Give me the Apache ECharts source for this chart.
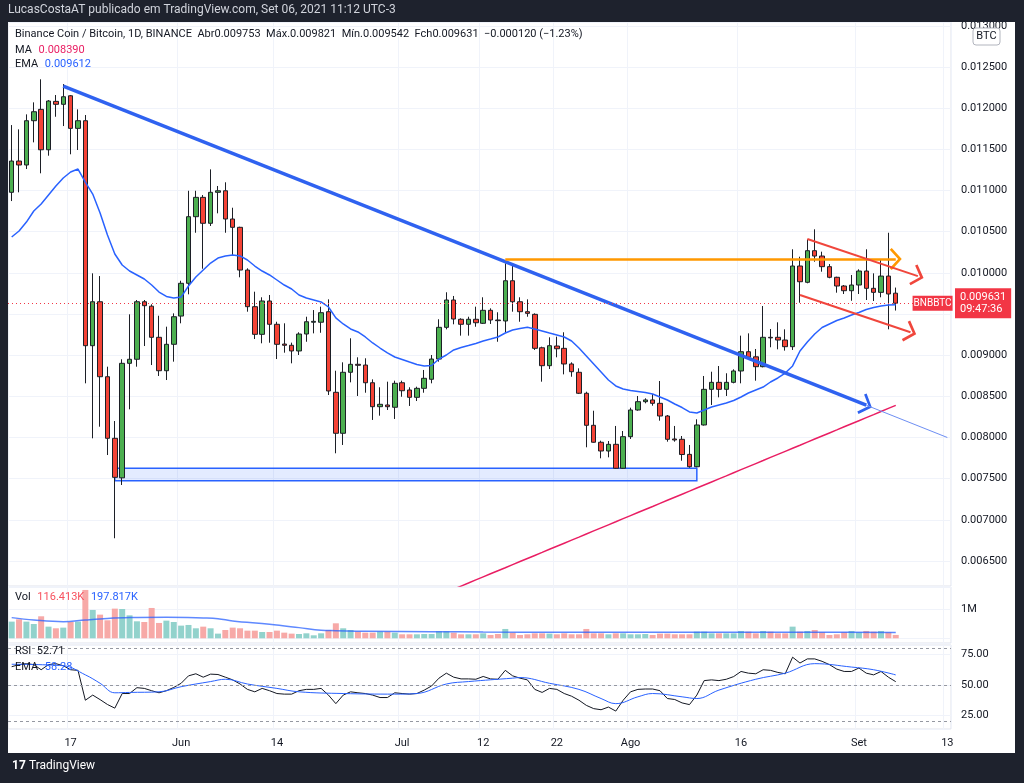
<!DOCTYPE html>
<html><head><meta charset="utf-8">
<script src="https://cdn.jsdelivr.net/npm/echarts@6/dist/echarts.min.js"></script>
<style>html,body{margin:0;padding:0;background:#1e222d}#c{width:1024px;height:783px}</style>
</head><body><div id="c"></div>
<script>
const categories = [
'05-09','05-10','05-11','05-12','05-13','05-14','05-15','05-16','05-17','05-18','05-19','05-20','05-21','05-22','05-23','05-24','05-25','05-26','05-27','05-28','05-29','05-30','05-31',
'06-01','06-02','06-03','06-04','06-05','06-06','06-07','06-08','06-09','06-10','06-11','06-12','06-13','06-14','06-15','06-16','06-17','06-18','06-19','06-20','06-21','06-22','06-23','06-24','06-25','06-26','06-27','06-28','06-29','06-30',
'07-01','07-02','07-03','07-04','07-05','07-06','07-07','07-08','07-09','07-10','07-11','07-12','07-13','07-14','07-15','07-16','07-17','07-18','07-19','07-20','07-21','07-22','07-23','07-24','07-25','07-26','07-27','07-28','07-29','07-30','07-31',
'08-01','08-02','08-03','08-04','08-05','08-06','08-07','08-08','08-09','08-10','08-11','08-12','08-13','08-14','08-15','08-16','08-17','08-18','08-19','08-20','08-21','08-22','08-23','08-24','08-25','08-26','08-27','08-28','08-29','08-30','08-31',
'09-01','09-02','09-03','09-04','09-05','09-06','09-07','09-08','09-09','09-10','09-11','09-12','09-13'];

const tickDates = ['05-17','06-01','06-14','07-01','07-12','07-22','08-01','08-16','09-01','09-13'];
const tickTexts = ['17','Jun','14','Jul','12','22','Ago','16','Set','13'];

const opens = [0.010978,0.011358,0.011310,0.011848,0.011986,0.011495,0.012083,0.012047,0.012151,0.011755,
0.011848,0.009115,0.009649,0.008738,0.007990,0.007510,0.008901,0.008950,0.009649,0.009595,
0.009217,0.008811,0.009132,0.009475,0.009873,0.010682,0.010917,0.010602,0.010978,0.010997,
0.010654,0.010553,0.010034,0.009589,0.009253,0.009658,0.009375,0.009135,0.009120,0.009051,
0.009257,0.009400,0.009400,0.009528,0.008549,0.008051,0.008792,0.008889,0.008880,0.008665,
0.008374,0.008395,0.008367,0.008665,0.008577,0.008488,0.008597,0.008707,0.008953,0.009338,
0.009670,0.009436,0.009375,0.009436,0.009387,0.009545,0.009427,0.009415,0.009904,0.009649,
0.009528,0.009496,0.009090,0.008872,0.009111,0.009083,0.008893,0.008792,0.008537,0.008148,
0.007942,0.007836,0.007917,0.007626,0.008010,0.008334,0.008435,0.008456,0.008415,0.008261,
0.007982,0.007978,0.007795,0.007645,0.008152,0.008585,0.008670,0.008585,0.008670,0.008808,
0.009042,0.008980,0.008860,0.009217,0.009217,0.009184,0.009103,0.010083,0.009885,0.010269,
0.010204,0.010075,0.009946,0.009840,0.009783,0.009852,0.010022,0.009812,0.009763,0.009961,
0.009753];
const closes = [0.011358,0.011310,0.011848,0.011957,0.011495,0.012087,0.012047,0.012139,0.011755,0.011848,
0.009115,0.009649,0.008738,0.007990,0.007516,0.008901,0.008950,0.009649,0.009601,0.009217,
0.008811,0.009132,0.009467,0.009873,0.010682,0.010917,0.010602,0.010978,0.010997,0.010654,
0.010553,0.010034,0.009589,0.009253,0.009658,0.009375,0.009132,0.009120,0.009051,0.009257,
0.009406,0.009411,0.009516,0.008565,0.008051,0.008792,0.008889,0.008877,0.008665,0.008374,
0.008403,0.008374,0.008658,0.008568,0.008488,0.008597,0.008719,0.008953,0.009338,0.009670,
0.009439,0.009375,0.009436,0.009394,0.009545,0.009427,0.009419,0.009904,0.009649,0.009528,
0.009508,0.009083,0.008872,0.009115,0.009078,0.008893,0.008799,0.008537,0.008148,0.007942,
0.007836,0.007917,0.007626,0.008010,0.008334,0.008435,0.008456,0.008415,0.008261,0.007978,
0.007970,0.007793,0.007645,0.008152,0.008585,0.008670,0.008585,0.008670,0.008808,0.009042,
0.008974,0.008860,0.009217,0.009210,0.009184,0.009103,0.010083,0.009892,0.010269,0.010204,
0.010075,0.009946,0.009840,0.009783,0.009852,0.010022,0.009812,0.009763,0.009961,0.009743,
0.009631];
const lows = [0.010872,0.010978,0.011261,0.011585,0.011209,0.011423,0.011896,0.011783,0.011440,0.011492,
0.008658,0.007990,0.008131,0.007787,0.006776,0.007423,0.008342,0.008860,0.009111,0.008880,
0.008747,0.008698,0.008921,0.009387,0.009739,0.010487,0.010050,0.010569,0.010723,0.010487,
0.010208,0.009946,0.009528,0.009196,0.009144,0.009151,0.008953,0.009030,0.008901,0.009002,
0.009163,0.009265,0.009272,0.008516,0.007808,0.007909,0.008670,0.008504,0.008544,0.008213,
0.008265,0.008334,0.008225,0.008495,0.008383,0.008443,0.008544,0.008658,0.008921,0.009314,
0.009375,0.009237,0.009237,0.009345,0.009379,0.009379,0.009163,0.009273,0.009528,0.009406,
0.009467,0.009063,0.008678,0.008832,0.008974,0.008767,0.008738,0.008528,0.007881,0.007937,
0.007747,0.007759,0.007620,0.007620,0.007982,0.008325,0.008415,0.008386,0.008204,0.007949,
0.007949,0.007718,0.007633,0.007638,0.008145,0.008395,0.008488,0.008504,0.008658,0.008658,
0.008962,0.008690,0.008852,0.009096,0.009071,0.009055,0.009063,0.009637,0.009873,0.010135,
0.010014,0.009934,0.009759,0.009743,0.009661,0.009743,0.009670,0.009658,0.009703,0.009314,
0.009542];
const highs = [0.011795,0.011743,0.011925,0.012071,0.012351,0.012099,0.012160,0.012293,0.012160,0.011986,
0.011917,0.009994,0.009961,0.008860,0.008200,0.008950,0.009496,0.009670,0.009670,0.009618,
0.009479,0.009346,0.009508,0.009904,0.010997,0.010997,0.010945,0.011257,0.011055,0.011100,
0.010791,0.010560,0.010055,0.009771,0.009703,0.009731,0.009406,0.009387,0.009152,0.009278,
0.009467,0.009548,0.009589,0.009678,0.008811,0.008913,0.009205,0.008974,0.008962,0.008706,
0.008610,0.008678,0.008690,0.008690,0.008610,0.008617,0.008820,0.009002,0.009436,0.009764,
0.009719,0.009448,0.009467,0.009589,0.009703,0.009569,0.009521,0.010116,0.010116,0.009703,
0.009678,0.009508,0.009103,0.009217,0.009225,0.009278,0.008913,0.008840,0.008556,0.008325,
0.007961,0.007957,0.008140,0.008079,0.008362,0.008504,0.008476,0.008528,0.008686,0.008273,
0.008140,0.008018,0.007909,0.008221,0.008747,0.008799,0.008868,0.008780,0.008828,0.009237,
0.009265,0.009075,0.009597,0.009318,0.009399,0.009314,0.010286,0.010196,0.010407,0.010529,
0.010257,0.010107,0.009953,0.009852,0.009974,0.010043,0.010286,0.009994,0.010156,0.010487,
0.009821];

const volumes = [575000,655000,575000,494000,759000,402000,345000,368000,563000,575000,
1667000,977000,816000,621000,1023000,1011000,793000,586000,563000,1046000,
529000,609000,563000,437000,460000,345000,402000,345000,161000,287000,
368000,345000,264000,264000,218000,218000,264000,195000,161000,149000,
172000,103000,172000,287000,517000,345000,287000,230000,195000,195000,
230000,230000,195000,138000,138000,138000,149000,149000,241000,241000,
195000,138000,138000,138000,172000,115000,149000,322000,195000,115000,
138000,172000,172000,161000,138000,172000,138000,138000,322000,172000,
172000,138000,172000,172000,138000,138000,149000,115000,161000,161000,
138000,138000,138000,230000,230000,172000,172000,172000,172000,253000,
230000,172000,253000,230000,172000,172000,402000,230000,253000,287000,
207000,115000,138000,207000,253000,207000,253000,230000,253000,207000,
116413];

const emaValues = [0.010435,0.010508,0.010617,0.010751,0.010836,0.010945,0.011055,0.011152,0.011225,0.011261,
0.011103,0.010957,0.010727,0.010459,0.010229,0.010095,0.010022,0.009974,0.009925,0.009852,
0.009767,0.009713,0.009694,0.009706,0.009840,0.009949,0.010034,0.010119,0.010180,0.010205,
0.010217,0.010205,0.010156,0.010083,0.010022,0.009974,0.009913,0.009852,0.009804,0.009731,
0.009694,0.009670,0.009646,0.009585,0.009452,0.009379,0.009318,0.009282,0.009221,0.009148,
0.009087,0.009027,0.008978,0.008948,0.008917,0.008887,0.008869,0.008875,0.008953,0.009002,
0.009063,0.009093,0.009117,0.009142,0.009172,0.009196,0.009221,0.009269,0.009306,0.009324,
0.009338,0.009318,0.009294,0.009269,0.009245,0.009221,0.009172,0.009087,0.008990,0.008893,
0.008796,0.008698,0.008626,0.008589,0.008571,0.008559,0.008547,0.008528,0.008492,0.008455,
0.008407,0.008364,0.008310,0.008298,0.008334,0.008370,0.008395,0.008419,0.008449,0.008492,
0.008540,0.008577,0.008613,0.008674,0.008723,0.008783,0.008869,0.009051,0.009160,0.009257,
0.009336,0.009379,0.009421,0.009452,0.009488,0.009518,0.009555,0.009579,0.009597,0.009609,
0.009612];

const maStart = 60;
const maValues = [0.006158,0.006195,0.006232,0.006270,0.006307,0.006344,0.006381,0.006418,0.006456,0.006493,
0.006530,0.006567,0.006604,0.006642,0.006679,0.006716,0.006753,0.006790,0.006828,0.006865,
0.006902,0.006939,0.006976,0.007014,0.007051,0.007088,0.007125,0.007162,0.007200,0.007237,
0.007274,0.007311,0.007348,0.007386,0.007423,0.007460,0.007497,0.007534,0.007572,0.007609,
0.007646,0.007683,0.007720,0.007758,0.007795,0.007832,0.007869,0.007906,0.007944,0.007981,
0.008018,0.008055,0.008092,0.008130,0.008167,0.008204,0.008241,0.008278,0.008316,0.008353,
0.008390];

const volMaIdx = [0,3,7,10,12,16,21,26,28,30,35,39,42,44,48,57,64,75,90,100,110,120];
const volMaVals = [713000,632000,575000,632000,667000,713000,724000,701000,678000,598000,483000,368000,276000,264000,241000,230000,218000,207000,205000,210000,212000,197817];

const rsiValues = [65,66.7,67.5,66.7,62.5,66.7,67.5,65.8,62.5,62,
37.5,41.7,38,34,31,43,43,47.8,47.2,45.3,
43.6,45.3,48,51.4,57.5,59.2,56.4,58.9,58.6,56.4,
54.2,50.8,46.4,44.4,47.2,45.3,43,42.5,42.5,45.3,
46.4,46.4,47.2,41.7,34.7,41.7,44.4,43.6,43,41.7,
39.7,39.7,43.6,43,42.5,43,45.8,49.2,55.6,59.7,
56.4,55,55,54.7,57,55,54.7,62,57.5,55.6,
54.2,46.4,43.9,47.2,46.4,43,40.8,37.5,33.3,30.6,
29.7,31.9,28.6,37.5,44.4,46.4,46.7,46.7,45.3,38.9,
38.1,35.3,33.9,41.7,53.6,54.2,53.6,54.7,56.9,61.1,
59.7,59.2,62.5,62,60.3,59.2,72.8,68,71.4,71.4,
69.4,66.7,63,61.1,61.1,63.9,59.7,58.3,61.1,56.4,
52.71];
const rsiEmaIdx = [0,7,10,12,14,16,20,23,27,29,32,36,39,45,52,55,59,62,68,69,73,77,80,82,85,87,91,93,96,101,105,109,114,117,120];
const rsiEmaVals = [67,65.8,58.3,51.4,43.6,43.9,44.4,48.6,52.8,54.7,50.8,47.2,44.4,43,42.5,43,50.8,52.8,55.6,56.1,51.4,46.4,38.9,34.7,40.3,43,40.3,38.9,45.8,54.7,59.7,67.5,64.7,62.5,58.28];
const rsiBands = [80, 50, 20];

// drawings (category index, price)
const trendMain = [[7, 0.012269], [116, 0.008392]];
const trendExt = [[116, 0.008392], [127, 0.008000]];
const resistance = [[67, 0.010168], [120, 0.010168]];
const channelTop = [[108, 0.010411], [123, 0.009960]];
const channelBottom = [[107, 0.009731], [122, 0.009278]];
const supportBox = [[14, 0.007626], [93, 0.007475]];
const lastPrice = 0.009631;

const chevron = 'path://M0,10 L12,0 L24,10 L22,12 L12,3.6 L2,12 Z';
const FONT = 'Roboto';
const upColor = '#4caf50', downColor = '#f44336';

function seg(pts, color, width, arrow) {
  return [
    {coord: pts[0], symbol: 'none', lineStyle: {color: color, width: width, type: 'solid', opacity: 1}},
    arrow ? {coord: pts[1], symbol: chevron, symbolSize: [22, 12], itemStyle: {color: color}} : {coord: pts[1], symbol: 'none'}
  ];
}

const xSplit = (i, v) => tickDates.indexOf(v) >= 0;
function makeX(gi, showLabel) {
  return {
    type: 'category', gridIndex: gi, data: categories, boundaryGap: true,
    axisLine: {show: false}, axisTick: {show: false},
    axisLabel: {show: showLabel, interval: xSplit, formatter: v => tickTexts[tickDates.indexOf(v)],
      color: '#131722', fontSize: 11, fontFamily: FONT, margin: 9},
    splitLine: {show: true, interval: xSplit, lineStyle: {color: '#f0f3fa', width: 1}}
  };
}
const gridBase = {left: 8, right: 73, show: true, borderColor: '#e0e3eb', borderWidth: 1, containLabel: false};

const chart = echarts.init(document.getElementById('c'));
chart.setOption({
  animation: false,
  backgroundColor: '#ffffff',
  grid: [
    Object.assign({top: 22, height: 564}, gridBase),
    Object.assign({top: 587, height: 56}, gridBase),
    Object.assign({top: 645, height: 84}, gridBase)
  ],
  xAxis: [makeX(0, false), makeX(1, false), makeX(2, true)],
  yAxis: [
    {type: 'value', gridIndex: 0, position: 'right', min: 0.006196, max: 0.013047, splitNumber: 14,
     minInterval: 0.0005, maxInterval: 0.0005, scale: true,
     axisLine: {show: false}, axisTick: {show: false},
     axisLabel: {formatter: v => v.toFixed(6), color: '#131722', fontSize: 11, fontFamily: FONT, margin: 10, showMinLabel: false, showMaxLabel: false},
     splitLine: {lineStyle: {color: '#f0f3fa'}}},
    {type: 'value', gridIndex: 1, position: 'right', min: -162000, max: 1769000,
     minInterval: 1000000, maxInterval: 1000000, scale: true,
     axisLine: {show: false}, axisTick: {show: false},
     axisLabel: {formatter: v => Math.abs(v - 1000000) < 1 ? '1M' : '', color: '#131722', fontSize: 11, fontFamily: FONT, margin: 10, showMinLabel: false, showMaxLabel: false},
     splitLine: {lineStyle: {color: '#f0f3fa'}}},
    {type: 'value', gridIndex: 2, position: 'right', min: 13.9, max: 82.8,
     minInterval: 25, maxInterval: 25, scale: true,
     axisLine: {show: false}, axisTick: {show: false},
     axisLabel: {formatter: v => v.toFixed(2), color: '#131722', fontSize: 11, fontFamily: FONT, margin: 10, showMinLabel: false, showMaxLabel: false},
     splitLine: {lineStyle: {color: '#f0f3fa'}}}
  ],
  series: [
    {type: 'candlestick', xAxisIndex: 0, yAxisIndex: 0, barWidth: 5,
     data: opens.map((o, i) => [o, closes[i], lows[i], highs[i]]),
     itemStyle: {color: upColor, color0: downColor, borderColor: '#1c1f26', borderColor0: '#1c1f26', borderWidth: 1},
     markArea: {silent: true, data: [[{coord: supportBox[0]}, {coord: supportBox[1]}]],
       itemStyle: {color: 'rgba(41,98,255,0.13)', borderColor: '#2962ff', borderWidth: 1.5}},
     markLine: {silent: true, precision: 6, symbol: ['none', 'none'], label: {show: false}, animation: false,
       data: [
         seg(trendMain, '#2f62f0', 3.5, true),
         seg(trendExt, '#6d8ef3', 1, false),
         seg(resistance, '#ff9800', 2.5, true),
         seg(channelTop, '#f0463c', 2, true),
         seg(channelBottom, '#f0463c', 2, true),
         {yAxis: lastPrice, symbol: 'none', lineStyle: {color: '#f23645', type: [1, 3], width: 1},
          label: {show: true, position: 'end', distance: 4, formatter: lastPrice.toFixed(6) + '\n09:47:36',
            color: '#ffffff', backgroundColor: '#f23645', padding: [3, 5, 3, 5], fontSize: 11, lineHeight: 12, fontFamily: FONT}}
       ]},
     markPoint: {silent: true, animation: false, data: [{coord: [125, lastPrice], symbol: 'rect', symbolSize: [40, 15],
       itemStyle: {color: '#f23645'}, label: {show: true, formatter: 'BNBBTC', color: '#ffffff', fontSize: 10, fontFamily: FONT}}]}
    },
    {type: 'line', xAxisIndex: 0, yAxisIndex: 0, data: emaValues, showSymbol: false, symbol: 'none',
     lineStyle: {color: '#2962ff', width: 1.5}, z: 4},
    {type: 'line', xAxisIndex: 0, yAxisIndex: 0, data: maValues.map((v, k) => [maStart + k, v]), showSymbol: false, symbol: 'none',
     lineStyle: {color: '#e91e63', width: 1.5}, clip: true, z: 4},
    {type: 'bar', xAxisIndex: 1, yAxisIndex: 1, barWidth: 6,
     data: volumes.map((v, i) => ({value: v, itemStyle: {color: closes[i] >= opens[i] ? '#92d2cc' : '#f7a9a7'}}))},
    {type: 'line', xAxisIndex: 1, yAxisIndex: 1, data: volMaIdx.map((i, k) => [i, volMaVals[k]]), smooth: 0.4, showSymbol: false, symbol: 'none',
     lineStyle: {color: '#2962ff', width: 1.5, opacity: 0.75}},
    {type: 'line', xAxisIndex: 2, yAxisIndex: 2, data: rsiValues, showSymbol: false, symbol: 'none',
     lineStyle: {color: '#131722', width: 1},
     markLine: {silent: true, symbol: ['none', 'none'], label: {show: false},
       lineStyle: {color: '#9598a1', type: [3, 3], width: 1}, data: rsiBands.map(v => ({yAxis: v}))}},
    {type: 'line', xAxisIndex: 2, yAxisIndex: 2, data: rsiEmaIdx.map((i, k) => [i, rsiEmaVals[k]]), smooth: 0.4, showSymbol: false, symbol: 'none',
     lineStyle: {color: '#2962ff', width: 1}}
  ],
  graphic: [
    {type: 'rect', z: 100, shape: {x: 0, y: 0, width: 1024, height: 22}, style: {fill: '#1e222d'}},
    {type: 'rect', z: 100, shape: {x: 0, y: 0, width: 8, height: 783}, style: {fill: '#1e222d'}},
    {type: 'rect', z: 100, shape: {x: 1015, y: 0, width: 9, height: 783}, style: {fill: '#1e222d'}},
    {type: 'rect', z: 100, shape: {x: 0, y: 753, width: 1024, height: 30}, style: {fill: '#1e222d'}},
    {type: 'text', z: 101, x: 8, y: 4, style: {text: 'LucasCostaAT publicado em TradingView.com, Set 06, 2021 11:12 UTC-3', fill: '#d1d4dc', font: '12px ' + FONT}},
    {type: 'text', z: 101, x: 12, y: 760, style: {text: '17', fill: '#ffffff', font: 'bold 12px ' + FONT}},
    {type: 'text', z: 101, x: 29, y: 760, style: {text: 'TradingView', fill: '#ffffff', font: '12px ' + FONT}},
    {type: 'text', z: 50, x: 15, y: 29, style: {text: 'Binance Coin / Bitcoin, 1D, BINANCE  Abr0.009753  Máx.0.009821  Mín.0.009542  Fch0.009631  −0.000120 (−1.23%)', fill: '#131722', font: '11px ' + FONT}},
    {type: 'text', z: 50, x: 15, y: 44, style: {text: '{a|MA}  {b|0.008390}', rich: {a: {fill: '#131722', font: '11px ' + FONT}, b: {fill: '#e91e63', font: '11px ' + FONT}}}},
    {type: 'text', z: 50, x: 15, y: 58, style: {text: '{a|EMA}  {b|0.009612}', rich: {a: {fill: '#131722', font: '11px ' + FONT}, b: {fill: '#2962ff', font: '11px ' + FONT}}}},
    {type: 'text', z: 50, x: 15, y: 591, style: {text: '{a|Vol}  {b|116.413K}  {c|197.817K}', rich: {a: {fill: '#131722', font: '11px ' + FONT}, b: {fill: '#f7525f', font: '11px ' + FONT}, c: {fill: '#2962ff', font: '11px ' + FONT}}}},
    {type: 'text', z: 50, x: 15, y: 646, style: {text: 'RSI  52.71', fill: '#131722', font: '11px ' + FONT}},
    {type: 'text', z: 50, x: 15, y: 661, style: {text: '{a|EMA}  {b|58.28}', rich: {a: {fill: '#131722', font: '11px ' + FONT}, b: {fill: '#2962ff', font: '11px ' + FONT}}}},
    {type: 'rect', z: 50, shape: {x: 973, y: 28, width: 27, height: 17, r: 3}, style: {fill: '#ffffff', stroke: '#b2b5be', lineWidth: 1}},
    {type: 'text', z: 51, x: 986.5, y: 36.5, style: {text: 'BTC', fill: '#131722', font: '11px ' + FONT, align: 'center', verticalAlign: 'middle'}}
  ]
});
</script></body></html>
